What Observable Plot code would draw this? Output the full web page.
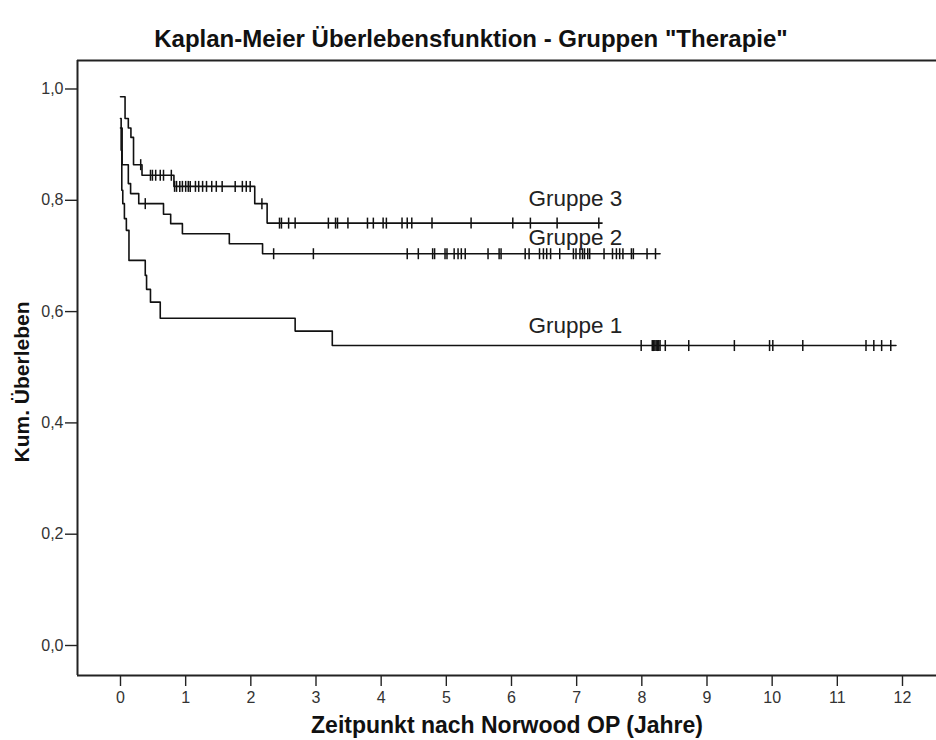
<!DOCTYPE html>
<html>
<head>
<meta charset="utf-8">
<script src="https://cdn.jsdelivr.net/npm/d3@7"></script>
<script src="https://cdn.jsdelivr.net/npm/@observablehq/plot@0.6"></script>
<style>
  body { margin: 0; background: #fff; font-family: "Liberation Sans", Arial, sans-serif; }
  #title { height: 50px; box-sizing: border-box; padding-top: 27px; padding-left: 6px; text-align: center;
           font-weight: bold; font-size: 24px; line-height: 24px; color: #111; white-space: nowrap; }
  #chart svg { display: block; }
</style>
</head>
<body>
<div id="title">Kaplan-Meier Überlebensfunktion - Gruppen "Therapie"</div>
<div id="chart"></div>
<script>
// ---- data ----
const groupNames = ["Gruppe 1", "Gruppe 2", "Gruppe 3"];

// Gruppe 1: step times and survival after each step
const g1Times = [0, 0.01, 0.02, 0.035, 0.06, 0.09, 0.13, 0.38, 0.40, 0.46, 0.61, 2.68, 3.25];
const g1Surv  = [0.947, 0.89, 0.818, 0.794, 0.767, 0.746, 0.692, 0.665, 0.640, 0.617, 0.588, 0.565, 0.539];
const g1End = 11.9;
const g1Censored = [7.99, 8.16, 8.18, 8.20, 8.22, 8.24, 8.26, 8.28, 8.36, 8.72, 9.42, 9.96, 10.01, 10.47, 11.44, 11.56, 11.68, 11.82];

// Gruppe 2
const g2Times = [0, 0.025, 0.12, 0.155, 0.28, 0.66, 0.77, 0.95, 1.67, 2.18];
const g2Surv  = [0.93, 0.864, 0.83, 0.812, 0.794, 0.775, 0.758, 0.740, 0.722, 0.704];
const g2End = 8.28;
const g2Censored = [0.38, 2.35, 2.96, 4.40, 4.57, 4.79, 4.82, 4.98, 5.01, 5.12, 5.18, 5.23, 5.29, 5.64, 5.81, 5.84,
  6.21, 6.27, 6.43, 6.49, 6.54, 6.60, 6.74, 6.95, 6.99, 7.05, 7.09, 7.12, 7.17, 7.20, 7.42, 7.55, 7.61, 7.66, 7.71,
  7.84, 7.87, 8.08, 8.21];

// Gruppe 3
const g3Times = [0, 0.07, 0.12, 0.16, 0.20, 0.33, 0.82, 2.06, 2.25];
const g3Surv  = [0.986, 0.947, 0.93, 0.913, 0.864, 0.845, 0.825, 0.794, 0.759];
const g3End = 7.39;
const g3Censored = [0.31, 0.46, 0.49, 0.54, 0.61, 0.66, 0.78, 0.83, 0.86, 0.91, 0.95, 1.00, 1.04, 1.07, 1.15, 1.20,
  1.26, 1.32, 1.40, 1.47, 1.56, 1.76, 1.87, 1.93, 1.99, 2.17, 2.44, 2.47, 2.58, 2.68, 3.19, 3.30, 3.33, 3.49, 3.79,
  3.88, 4.03, 4.08, 4.32, 4.40, 4.47, 4.78, 5.38, 6.02, 6.29, 6.70, 7.34];

const xTicks = [0, 1, 2, 3, 4, 5, 6, 7, 8, 9, 10, 11, 12];
const yTicks = [0, 0.2, 0.4, 0.6, 0.8, 1.0];
const xLabel = "Zeitpunkt nach Norwood OP (Jahre)";
const yLabel = "Kum. Überleben";

// ---- build tables ----
const groups = [
  {name: groupNames[0], times: g1Times, surv: g1Surv, end: g1End, cens: g1Censored},
  {name: groupNames[1], times: g2Times, surv: g2Surv, end: g2End, cens: g2Censored},
  {name: groupNames[2], times: g3Times, surv: g3Surv, end: g3End, cens: g3Censored}
];
function survAt(g, t) {
  let v = g.surv[0];
  for (let i = 0; i < g.times.length; i++) if (g.times[i] <= t) v = g.surv[i];
  return v;
}
const curveData = groups.flatMap(g => [
  ...g.times.map((t, i) => ({group: g.name, t, v: g.surv[i]})),
  {group: g.name, t: g.end, v: g.surv[g.surv.length - 1]}
]);
const censorData = groups.flatMap(g => g.cens.map(t => ({group: g.name, t, v: survAt(g, t)})));
const finals = groups.map(g => ({name: g.name, t: g.end, v: g.surv[g.surv.length - 1]}));

const censorTick = {
  draw(context, size) {
    const r = Math.sqrt(size / Math.PI);
    context.moveTo(0, -r);
    context.lineTo(0, r);
  }
};

const xMin = -0.6598, xMax = 12.5218;
const yMin = -0.0539, yMax = 1.0512;
const labelT = 6.26;
const labelDy = [-20, -16, -24];

const chart = Plot.plot({
  width: 936,
  height: 690,
  marginLeft: 77,
  marginRight: 0,
  marginTop: 10,
  marginBottom: 65,
  style: {fontFamily: "'Liberation Sans', Arial, sans-serif", color: "#222", background: "#fff"},
  x: {domain: [xMin, xMax]},
  y: {domain: [yMin, yMax]},
  marks: [
    Plot.axisX({ticks: xTicks, tickSize: 11, tickPadding: 5, fontSize: 16, label: null, stroke: "#222", strokeWidth: 1.4, fill: "#333"}),
    Plot.axisY({ticks: yTicks, tickSize: 12, tickPadding: 2, fontSize: 16, label: null, stroke: "#222", strokeWidth: 1.4, fill: "#333",
      tickFormat: d => d.toFixed(1).replace(".", ",")}),
    Plot.ruleY([yMin], {stroke: "#222", strokeWidth: 2}),
    Plot.ruleY([yMax], {stroke: "#222", strokeWidth: 2}),
    Plot.ruleX([xMin], {stroke: "#222", strokeWidth: 2}),
    Plot.line(curveData, {x: "t", y: "v", z: "group", curve: "step-after", stroke: "#111", strokeWidth: 1.6}),
    Plot.dot(censorData, {x: "t", y: "v", symbol: censorTick, r: 5.5, stroke: "#111", strokeWidth: 1.5, fill: "none"}),
    ...finals.map((f, i) => Plot.text([f], {x: () => labelT, y: "v", text: "name", textAnchor: "start",
      lineAnchor: "middle", dy: labelDy[i], fontSize: 22.5, fill: "#222"})),
    Plot.text([xLabel], {frameAnchor: "bottom", dy: 50, text: d => d, fontSize: 23, fontWeight: "bold", fill: "#111",
      textAnchor: "middle", lineAnchor: "middle"}),
    Plot.text([yLabel], {frameAnchor: "left", rotate: -90, dx: -55, dy: 14, text: d => d, fontSize: 21, fontWeight: "bold", fill: "#111",
      textAnchor: "middle", lineAnchor: "middle"})
  ]
});
document.getElementById("chart").appendChild(chart);
</script>
</body>
</html>
